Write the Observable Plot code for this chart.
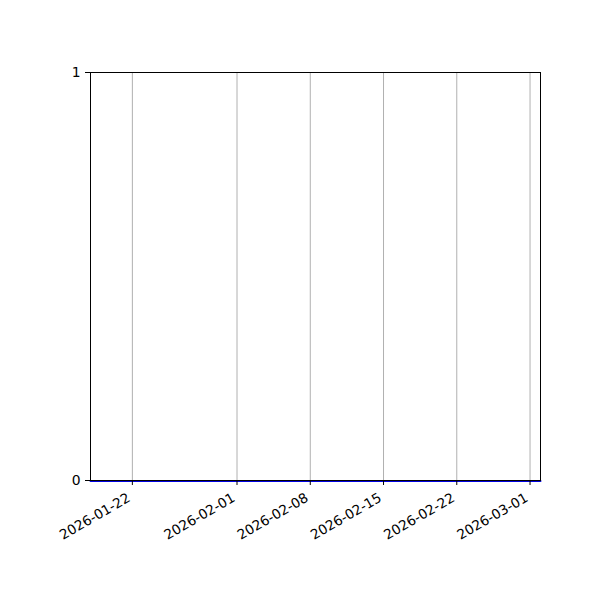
<!DOCTYPE html>
<html>
<head>
<meta charset="utf-8">
<script src="https://cdn.jsdelivr.net/npm/d3@7"></script>
<script src="https://cdn.jsdelivr.net/npm/@observablehq/plot@0.6"></script>
<style>
  html, body { margin: 0; padding: 0; background: #fff; }
  #chart svg { display: block; }
</style>
</head>
<body>
<div id="chart"></div>
<script>
// Data
const dates = ["2026-01-18", "2026-01-25", "2026-02-01", "2026-02-08", "2026-02-15", "2026-02-22", "2026-03-01", "2026-03-02"];
const values = [0, 0, 0, 0, 0, 0, 0, 0];
const xDomain = ["2026-01-18", "2026-03-02"];
const xTickLabels = ["2026-01-22", "2026-02-01", "2026-02-08", "2026-02-15", "2026-02-22", "2026-03-01"];
const yTicks = [0, 1];

const parse = d3.utcParse("%Y-%m-%d");
const rows = dates.map((d, i) => ({date: parse(d), value: values[i]}));
const xTicks = xTickLabels.map(parse);
const fmt = d3.utcFormat("%Y-%m-%d");

const chart = Plot.plot({
  width: 600,
  height: 600,
  marginLeft: 90,
  marginRight: 60,
  marginTop: 72,
  marginBottom: 120,
  style: {fontFamily: "DejaVu Sans", fontSize: "13.9px", color: "#000", background: "#fff"},
  x: {type: "utc", domain: xDomain.map(parse)},
  y: {domain: [0, 1]},
  marks: [
    Plot.gridX(xTicks, {stroke: "#b0b0b0", strokeOpacity: 1, strokeWidth: 1}),
    Plot.line(rows, {x: "date", y: "value", stroke: "#0000e0", strokeWidth: 2, dy: 0.5}),
    Plot.frame({stroke: "#000", strokeWidth: 1}),
    Plot.axisX({ticks: xTicks, tickFormat: () => "", tickSize: 5, label: null, strokeWidth: 1}),
    Plot.text(xTicks, {
      x: d => d, text: d => fmt(d), frameAnchor: "bottom",
      rotate: -30, textAnchor: "end", lineAnchor: "bottom",
      dx: -1, dy: 20, fontSize: 13.6, fill: "#000"
    }),
    Plot.axisY({ticks: yTicks, tickFormat: d => String(d), tickSize: 5, tickPadding: 5, label: null, fontSize: 13.9})
  ]
});
document.getElementById("chart").appendChild(chart);
</script>
</body>
</html>
